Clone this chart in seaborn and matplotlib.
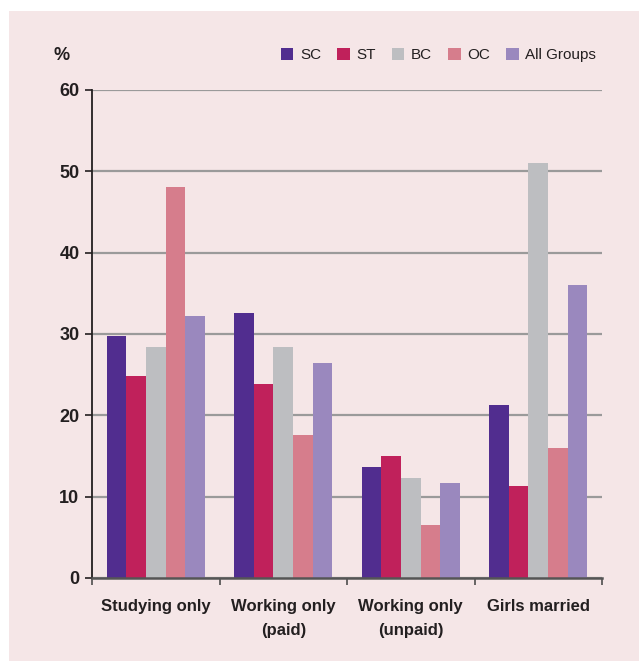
import matplotlib

matplotlib.use("Agg")
import matplotlib.pyplot as plt
import numpy as np
import pandas as pd
import seaborn as sns
from matplotlib.patches import Rectangle

categories = ["Studying only", "Working only\n(paid)", "Working only\n(unpaid)", "Girls married"]
groups = ["SC", "ST", "BC", "OC", "All Groups"]
sc_values = [29.7, 32.6, 13.7, 21.3]
st_values = [24.8, 23.8, 15.0, 11.3]
bc_values = [28.4, 28.4, 12.3, 51.0]
oc_values = [48.1, 17.6, 6.5, 16.0]
all_values = [32.2, 26.4, 11.7, 36.0]
yticks = [0, 10, 20, 30, 40, 50, 60]

colors = ["#512d8f", "#c0215b", "#bdbec1", "#d67d8c", "#9a88be"]
bg = "#f5e6e7"
ink = "#231f20"

df = pd.DataFrame(
    {
        "category": categories * 5,
        "group": np.repeat(groups, len(categories)),
        "value": sc_values + st_values + bc_values + oc_values + all_values,
    }
)

sns.set_theme(style="white")
plt.rcParams["font.family"] = ["Liberation Sans Narrow", "Liberation Sans", "DejaVu Sans"]

fig = plt.figure(figsize=(6.39, 6.61), dpi=100, facecolor="white")
# pink panel with a thin white margin on the left and top
fig.patches.append(
    Rectangle((9 / 639, 0), 1, 1 - 11 / 661, transform=fig.transFigure,
              facecolor=bg, edgecolor="none", zorder=-10)
)
ax = fig.add_axes([92 / 639, 1 - 578 / 661, 510 / 639, 488 / 661])
ax.set_zorder(2)
ax.set_facecolor("none")

sns.barplot(
    data=df, x="category", y="value", hue="group", hue_order=groups,
    order=categories, palette=colors, width=0.77, gap=0, linewidth=0,
    saturation=1, ax=ax, legend=True, zorder=3,
)

ax.set_xlim(-0.5, len(categories) - 0.5)
ax.set_ylim(0, 60)
ax.set_yticks(yticks)
ax.set_yticklabels([str(t) for t in yticks], fontsize=13, fontweight="bold", color=ink)
ax.yaxis.grid(True, color="#9a9a9a", linewidth=1.6, zorder=0)
ax.set_axisbelow(True)

ax.set_xticks(range(len(categories)))
ax.set_xticklabels(categories, fontsize=12, fontweight="bold", color=ink,
                   linespacing=1.75, va="top")
ax.set_xticks(np.arange(-0.5, len(categories), 1.0), minor=True)
ax.tick_params(axis="x", which="major", length=0, pad=15)
ax.tick_params(axis="x", which="minor", length=5, width=1.2, color="#4d4d4d", direction="out", bottom=True)
ax.tick_params(axis="y", length=5, width=1.2, color=ink, direction="out", left=True, pad=4)
ax.set_xlabel("")
ax.set_ylabel("")

for side in ["top", "right"]:
    ax.spines[side].set_visible(False)
ax.spines["left"].set_color(ink)
ax.spines["left"].set_linewidth(1.3)
ax.spines["bottom"].set_color("#555555")
ax.spines["bottom"].set_linewidth(1.8)
ax.spines["bottom"].set_zorder(4)

fig.text(62 / 639, 1 - 55 / 661, "%", fontsize=13, fontweight="bold",
         color=ink, ha="center", va="center")

handles, labels = ax.get_legend_handles_labels()
ax.legend(
    handles, labels, ncol=5, frameon=False, loc="center right",
    bbox_to_anchor=(604 / 639, 1 - 55 / 661), bbox_transform=fig.transFigure,
    handlelength=0.8, handleheight=0.8, handletextpad=0.45, columnspacing=1.05,
    fontsize=11, labelcolor=ink, borderpad=0,
)

fig.savefig("out.png", dpi=100, facecolor="white")
